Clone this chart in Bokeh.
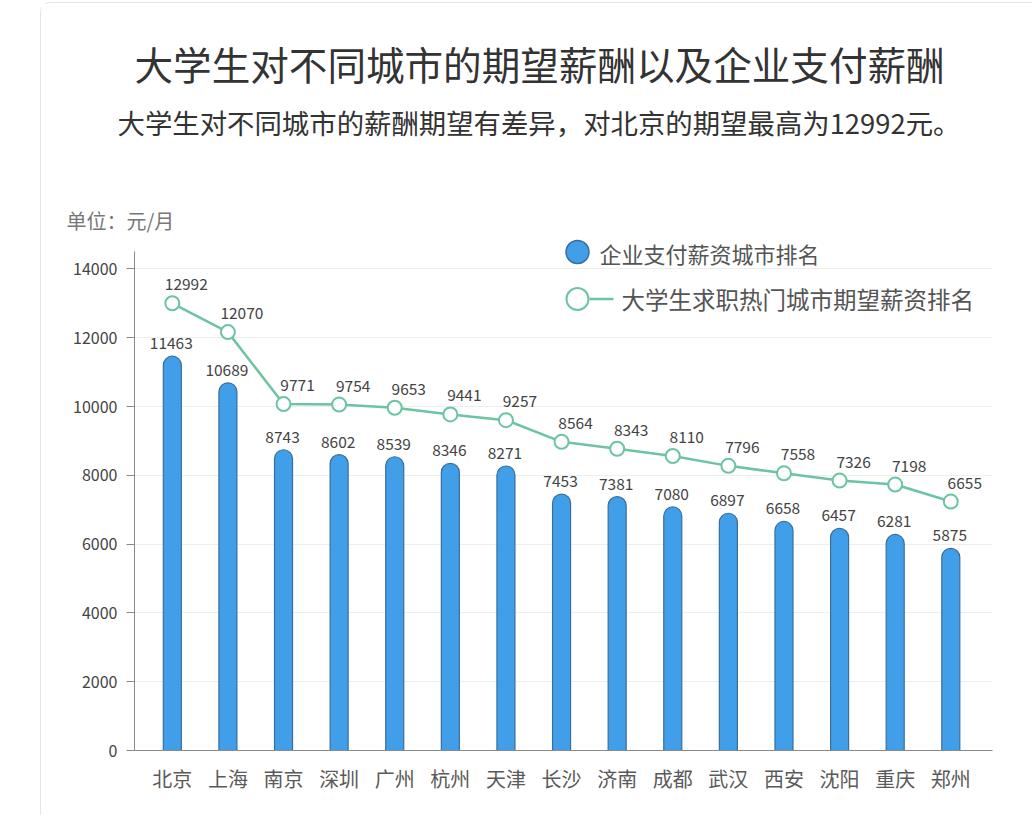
from bokeh.plotting import figure
from bokeh.models import ColumnDataSource, Label, FixedTicker, Range1d, Title
from bokeh.core.properties import value
from bokeh.embed import file_html
from bokeh.resources import INLINE

# ---------------- data ----------------
cities = ["北京", "上海", "南京", "深圳", "广州", "杭州", "天津", "长沙",
          "济南", "成都", "武汉", "西安", "沈阳", "重庆", "郑州"]
company_pay = [11463, 10689, 8743, 8602, 8539, 8346, 8271, 7453,
               7381, 7080, 6897, 6658, 6457, 6281, 5875]
expected_pay = [12992, 12070, 9771, 9754, 9653, 9441, 9257, 8564,
                8343, 8110, 7796, 7558, 7326, 7198, 6655]
y_ticks = [0, 2000, 4000, 6000, 8000, 10000, 12000, 14000]

title_text = "大学生对不同城市的期望薪酬以及企业支付薪酬"
subtitle_text = "大学生对不同城市的薪酬期望有差异，对北京的期望最高为12992元。"
unit_text = "单位：元/月"
legend_labels = ["企业支付薪资城市排名", "大学生求职热门城市期望薪资排名"]

# ---------------- style ----------------
FONT_NAME = "Noto Sans CJK SC"
FONT = value(FONT_NAME)
BAR_FILL = "#419fea"
BAR_LINE = "#3a6d9c"
LINE_COLOR = "#6cc4a1"

X0, X1 = -0.68, 14.75
Y0, Y1 = 0, 15000
# the line series is drawn on its own (hidden) scale in the original
LINE_Y0, LINE_Y1 = -1301, 15190
FRAME_W, FRAME_H = 858, 516
# page position of the frame's left/bottom edges
PAGE_L, PAGE_B = 135, 750
PX_X = FRAME_W / (X1 - X0)
PX_Y = FRAME_H / (Y1 - Y0)


def dx(page_x):
    return X0 + (page_x - PAGE_L) / PX_X


def dy(page_y):
    return (PAGE_B - page_y) / PX_Y


idx = list(range(len(cities)))
src = ColumnDataSource(dict(
    x=idx, city=cities, company=company_pay, expected=expected_pay,
    company_txt=[str(v) for v in company_pay],
    expected_txt=[str(v) for v in expected_pay],
))

p = figure(width=992, height=813, x_range=Range1d(X0, X1), y_range=Range1d(Y0, Y1),
           output_backend="svg", toolbar_location=None,
           min_border_left=93, min_border_right=41, min_border_top=231, min_border_bottom=66)
p.extra_y_ranges = {"line": Range1d(LINE_Y0, LINE_Y1)}
p.styles = {"margin-left": "40px", "margin-top": "2px",
            "border-left": "1px solid #e4e4e4", "border-top": "1px solid #e4e4e4",
            "border-top-left-radius": "10px"}
p.outline_line_color = None
p.background_fill_color = "white"
p.border_fill_color = "white"

# grid
p.xgrid.grid_line_color = None
p.ygrid.grid_line_color = "#eeeeee"
p.ygrid.grid_line_width = 1
p.ygrid.ticker = FixedTicker(ticks=y_ticks)

# y axis
p.yaxis.ticker = FixedTicker(ticks=y_ticks)
p.yaxis.bounds = (0, 14520)
p.yaxis.axis_line_color = "#8a8a8a"
p.yaxis.major_tick_line_color = "#8a8a8a"
p.yaxis.major_tick_out = 8
p.yaxis.major_tick_in = 0
p.yaxis.minor_tick_line_color = None
p.yaxis.major_label_text_font = FONT_NAME
p.yaxis.major_label_text_font_size = "16px"
p.yaxis.major_label_text_color = "#444444"
p.yaxis.major_label_standoff = 9

# x axis
p.xaxis.ticker = FixedTicker(ticks=idx)
p.xaxis.major_label_overrides = {i: c for i, c in zip(idx, cities)}
p.xaxis.axis_line_color = "#8a8a8a"
p.xaxis.major_tick_line_color = None
p.xaxis.minor_tick_line_color = None
p.xaxis.major_tick_out = 0
p.xaxis.major_label_text_font = FONT_NAME
p.xaxis.major_label_text_font_size = "20px"
p.xaxis.major_label_text_color = "#5a5a5a"
p.xaxis.major_label_standoff = 13

# bars
p.vbar(x="x", top="company", width=0.324, bottom=0, source=src,
       fill_color=BAR_FILL, line_color=BAR_LINE, line_width=1.2,
       border_radius=(9, 9, 0, 0))
p.text(x="x", y="company", text="company_txt", source=src,
       text_font=FONT, text_font_size="15.5px", text_color="#444444",
       text_align="center", text_baseline="middle", x_offset=-1, y_offset=-13)

# line
p.line(x="x", y="expected", source=src, y_range_name="line",
       line_color=LINE_COLOR, line_width=2.5)
p.scatter(x="x", y="expected", source=src, y_range_name="line", size=14, marker="circle",
          fill_color="white", line_color=LINE_COLOR, line_width=2)
p.text(x="x", y="expected", text="expected_txt", source=src, y_range_name="line",
       text_font=FONT, text_font_size="15.5px", text_color="#444444",
       text_align="center", text_baseline="middle", x_offset=14, y_offset=-19)

# legend (drawn by hand to match the picture)
p.scatter([dx(578)], [dy(251.5)], size=23, marker="circle",
          fill_color=BAR_FILL, line_color=BAR_LINE, line_width=1.5)
p.line([dx(590), dx(614)], [dy(298.5), dy(298.5)], line_color=LINE_COLOR, line_width=2.5)
p.scatter([dx(578)], [dy(298.5)], size=22, marker="circle",
          fill_color="white", line_color=LINE_COLOR, line_width=2)
p.add_layout(Label(x=dx(600), y=dy(252), text=legend_labels[0],
                   text_font=FONT_NAME, text_font_size="22px", text_color="#555555",
                   text_align="left", text_baseline="middle"))
p.add_layout(Label(x=dx(622), y=dy(298.5), text=legend_labels[1],
                   text_font=FONT_NAME, text_font_size="23.5px", text_color="#555555",
                   text_align="left", text_baseline="middle"))

# titles (stacked above the frame: first added is closest to the frame)
p.add_layout(Title(text=unit_text, align="left", offset=-68, standoff=0,
                   text_font=FONT_NAME, text_font_size="20px", text_color="#777777",
                   text_font_style="normal"), "above")
p.add_layout(Title(text=" ", align="left", standoff=59,
                   text_font=FONT_NAME, text_font_size="1px"), "above")
p.add_layout(Title(text=subtitle_text, align="left", offset=-17, standoff=0,
                   text_font=FONT_NAME, text_font_size="27.4px", text_color="#333333",
                   text_font_style="normal"), "above")
p.add_layout(Title(text=title_text, align="left", offset=0, standoff=18,
                   text_font=FONT_NAME, text_font_size="38.6px", text_color="#333333",
                   text_font_style="normal"), "above")

open("out.html", "w").write(file_html(p, INLINE))
